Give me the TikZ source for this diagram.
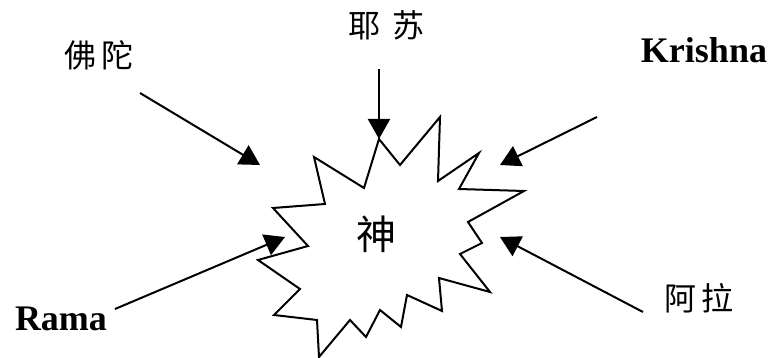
\documentclass[tikz,border=0pt]{standalone}
\usepackage{fontspec}
\setmainfont{Liberation Serif}
\newfontfamily\cjk{Noto Sans CJK SC}
\usetikzlibrary{arrows.meta}
\tikzset{
  latinname/.style={font=\fontsize{18}{20}\selectfont\bfseries, inner sep=0pt},
  cjkname/.style={font=\cjk\fontsize{16}{18}\selectfont, inner sep=0pt},
  godname/.style={font=\cjk\fontsize{20}{22}\selectfont, inner sep=0pt},
  burst/.style={draw=black, line width=1pt, line join=miter, fill=white},
  myarrow/.style={-{Triangle[length=10pt, width=11pt]}, line width=1pt, black},
}

\begin{document}
\begin{tikzpicture}[x=0.5pt, y=-0.5pt]
  \useasboundingbox (0,0) rectangle (778,358);

  % starburst
  \draw[burst] (379,139) -- (400,165) -- (440,117) -- (438,181) -- (479,153)
    -- (459,189) -- (524,191) -- (468,222) -- (482,243) -- (460,254)
    -- (490,292) -- (439,278) -- (442,311) -- (407,295) -- (401,327)
    -- (380,310) -- (366,337) -- (350,320) -- (319,357) -- (317,320)
    -- (274,315) -- (300,289) -- (258,260) -- (308,246) -- (273,208)
    -- (325,204) -- (314,157) -- (364,188) -- cycle;
  \node[godname] (god) at (376,234) {神};

  % names
  \node[cjkname] (buddha) at (99,55) {佛\hspace{3pt}陀};
  \node[cjkname] (jesus) at (386,25) {耶\hspace{6pt}苏};
  \node[latinname] (krishna) at (704,50) {Krishna};
  \node[cjkname] (allah) at (699,298) {阿\hspace{3pt}拉};
  \node[latinname] (rama) at (61,319) {Rama};

  % arrow ends
  \coordinate (buddhaS) at (140,93);
  \coordinate (buddhaT) at (260,165);
  \coordinate (jesusS) at (379,69);
  \coordinate (jesusT) at (379,139);
  \coordinate (krishnaS) at (597,117);
  \coordinate (krishnaT) at (500,165);
  \coordinate (allahS) at (643,312);
  \coordinate (allahT) at (500,237);
  \coordinate (ramaS) at (115,309);
  \coordinate (ramaT) at (285,237);

  \draw[myarrow] (buddhaS) -- (buddhaT);
  \draw[myarrow] (jesusS) -- (jesusT);
  \draw[myarrow] (krishnaS) -- (krishnaT);
  \draw[myarrow] (allahS) -- (allahT);
  \draw[myarrow] (ramaS) -- (ramaT);
\end{tikzpicture}
\end{document}
